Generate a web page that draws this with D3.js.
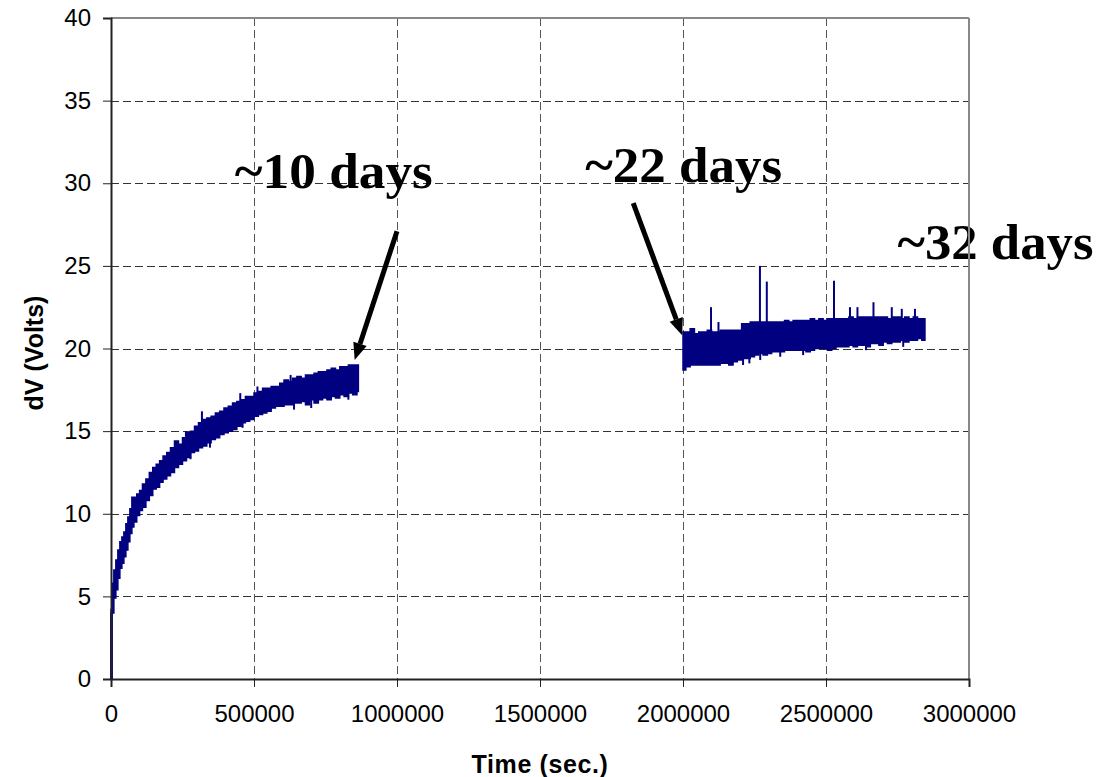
<!DOCTYPE html>
<html>
<head>
<meta charset="utf-8">
<script src="https://cdn.jsdelivr.net/npm/d3@7/dist/d3.min.js"></script>
<style>
  html, body { margin: 0; padding: 0; background: #fff; }
  svg { display: block; }
</style>
</head>
<body>
<svg id="chart" width="1097" height="777"></svg>
<script>
// Tick values
const xTicks = [0, 500000, 1000000, 1500000, 2000000, 2500000, 3000000];
const yTicks = [0, 5, 10, 15, 20, 25, 30, 35, 40];

// First run: [time (s), lowest dV, highest dV] per sampling window
const run1 = [
  [0, 0, 4.2], [3500, 4.0, 5.8], [10000, 4.9, 6.6], [17000, 5.4, 7.2],
  [24000, 6.1, 7.8], [31000, 6.7, 8.3], [38000, 7.0, 8.6], [45000, 7.4, 8.9],
  [52000, 7.8, 9.4], [59000, 8.3, 9.8], [66000, 8.8, 10.3], [73000, 9.2, 11.0],
  [80000, 9.5, 11.0], [90000, 9.9, 11.2], [100000, 10.2, 11.4], [110000, 10.4, 11.8],
  [122000, 10.8, 12.1], [134000, 11.1, 12.5], [146000, 11.5, 12.8], [158000, 11.6, 13.0],
  [170000, 11.9, 13.2], [182000, 12.1, 13.5], [195000, 12.3, 13.7], [208000, 12.5, 14.0],
  [222000, 12.8, 14.4], [236000, 13.0, 14.2], [250000, 13.2, 14.6], [264000, 13.4, 14.9],
  [278000, 13.7, 15.0], [292000, 13.8, 15.3], [306000, 14.0, 15.5], [320000, 14.1, 15.7],
  [335000, 14.3, 15.8], [350000, 14.5, 15.9], [365000, 14.6, 16.1], [380000, 14.8, 16.2],
  [395000, 14.9, 16.4], [410000, 15.0, 16.5], [425000, 15.1, 16.7], [440000, 15.3, 16.8],
  [455000, 15.5, 16.9], [470000, 15.6, 17.1], [485000, 15.7, 17.1], [500000, 15.9, 17.3],
  [515000, 16.0, 17.4], [530000, 16.1, 17.6], [545000, 16.2, 17.6], [560000, 16.4, 17.7],
  [575000, 16.5, 17.7], [590000, 16.5, 17.9], [605000, 16.6, 18.1], [620000, 16.6, 18.0],
  [635000, 16.7, 18.2], [650000, 16.7, 18.3], [665000, 16.8, 18.2], [680000, 16.6, 18.4],
  [695000, 16.9, 18.4], [710000, 16.7, 18.5], [725000, 16.9, 18.6], [740000, 17.0, 18.6],
  [755000, 16.9, 18.7], [770000, 17.1, 18.8], [785000, 17.0, 18.7], [800000, 17.2, 18.9],
  [815000, 17.1, 18.9], [830000, 17.3, 19.0], [845000, 17.2, 19.0], [860000, 17.4, 19.0],
  [865000, 17.4, 19.0]
];

// Isolated excursions in the first run: [time (s), dV]
const run1Spikes = [
  [262000, 15.0], [318000, 16.2], [452000, 17.3], [512000, 17.7], [628000, 18.4]
];
const run1Dips = [
  [278000, 13.3], [346000, 14.0], [460000, 15.2], [640000, 16.3], [700000, 16.4], [830000, 16.9]
];

// Second run, restarted after the break
const run2 = [
  [2000000, 18.7, 21.0], [2010000, 18.9, 21.0], [2025000, 19.0, 21.2], [2040000, 19.0, 20.9],
  [2055000, 19.0, 21.0], [2070000, 19.0, 21.0], [2085000, 19.0, 21.1], [2100000, 19.0, 21.0],
  [2115000, 19.0, 21.0], [2130000, 19.1, 21.1], [2145000, 19.1, 21.1], [2160000, 19.0, 21.1],
  [2175000, 19.2, 21.1], [2190000, 19.3, 21.1], [2205000, 19.4, 21.5], [2220000, 19.4, 21.5],
  [2235000, 19.5, 21.6], [2250000, 19.6, 21.6], [2265000, 19.7, 21.6], [2280000, 19.6, 21.6],
  [2295000, 19.7, 21.6], [2310000, 19.8, 21.6], [2325000, 19.8, 21.6], [2340000, 19.8, 21.6],
  [2355000, 19.9, 21.7], [2370000, 19.9, 21.6], [2385000, 19.9, 21.7], [2400000, 19.9, 21.7],
  [2415000, 19.9, 21.7], [2430000, 19.8, 21.7], [2445000, 19.9, 21.8], [2460000, 20.0, 21.7],
  [2475000, 20.0, 21.8], [2490000, 20.0, 21.7], [2505000, 19.9, 21.8], [2520000, 20.0, 21.8],
  [2535000, 20.1, 21.8], [2550000, 20.1, 21.8], [2565000, 20.1, 21.8], [2580000, 20.2, 21.9],
  [2595000, 20.1, 21.8], [2610000, 20.2, 21.9], [2625000, 20.2, 21.9], [2640000, 20.1, 21.9],
  [2655000, 20.3, 21.9], [2670000, 20.3, 21.9], [2685000, 20.2, 21.9], [2700000, 20.4, 21.9],
  [2715000, 20.3, 21.8], [2730000, 20.4, 21.9], [2745000, 20.4, 21.9], [2760000, 20.5, 21.8],
  [2775000, 20.4, 21.9], [2790000, 20.5, 21.8], [2805000, 20.5, 21.9], [2820000, 20.6, 21.8],
  [2835000, 20.5, 21.8], [2846000, 20.5, 21.8]
];

// Isolated excursions in the second run: [time (s), dV]
const run2Spikes = [
  [2098000, 22.5], [2124000, 21.6], [2269000, 25.0], [2293000, 24.05],
  [2528000, 24.1], [2584000, 22.5], [2610000, 22.5], [2666000, 22.8],
  [2730000, 22.5], [2765000, 22.4], [2811000, 22.4]
];
const run2Dips = [
  [2210000, 19.0], [2232000, 19.1], [2270000, 19.3], [2340000, 19.5], [2420000, 19.6],
  [2640000, 19.9], [2770000, 20.1]
];

// Day markers: label, label anchor (time, dV), arrow tail, arrow tip
const markerLabels = ["~10 days", "~22 days", "~32 days"];
const markerText = [[433000, 29.7], [1658000, 30.1], [2750000, 25.4]];
const markerArrows = [
  [[1000000, 27.1], [852000, 19.3]],
  [[1826000, 28.8], [1997000, 20.8]]
];

const W = 1097, H = 777;
const plot = { left: 111, top: 18, right: 969, bottom: 679 };

const svg = d3.select("#chart");
const x = d3.scaleLinear().domain([0, 3000000]).range([plot.left, plot.right]);
const y = d3.scaleLinear().domain([0, 40]).range([plot.bottom, plot.top]);

const sansFont = "'Liberation Sans', Arial, sans-serif";
const serifFont = "'Liberation Serif', 'Times New Roman', serif";

// Dashed grid
const grid = svg.append("g");
grid.selectAll("line.h").data(yTicks.filter(d => d > 0 && d < 40)).join("line")
  .attr("x1", plot.left).attr("x2", plot.right)
  .attr("y1", d => Math.round(y(d)) + 0.5).attr("y2", d => Math.round(y(d)) + 0.5)
  .attr("stroke", "#333").attr("stroke-width", 1).attr("stroke-dasharray", "8,4");
grid.selectAll("line.v").data(xTicks.filter(d => d > 0 && d < 3000000)).join("line")
  .attr("y1", plot.top).attr("y2", plot.bottom)
  .attr("x1", d => Math.round(x(d)) + 0.5).attr("x2", d => Math.round(x(d)) + 0.5)
  .attr("stroke", "#555").attr("stroke-width", 1).attr("stroke-dasharray", "8,4");

// Measured band
const band = d3.area()
  .curve(d3.curveStepAfter)
  .x(d => x(d[0]))
  .y0(d => y(d[1]))
  .y1(d => y(d[2]));

const navy = "#000080";
[run1, run2].forEach(run => {
  svg.append("path").datum(run)
    .attr("d", band)
    .attr("fill", navy)
    .attr("stroke", navy)
    .attr("stroke-width", 1.5)
    .attr("stroke-linejoin", "miter");
});
// Start-up trace at t = 0
svg.append("line")
  .attr("x1", x(0) + 0.5).attr("x2", x(0) + 0.5)
  .attr("y1", y(0)).attr("y2", y(run1[1][1]))
  .attr("stroke", navy).attr("stroke-width", 2.5);

// Spikes above and dips below each band
function excursions(data, anchor) {
  svg.append("g").selectAll("line").data(data).join("line")
    .attr("x1", d => x(d[0])).attr("x2", d => x(d[0]))
    .attr("y1", d => y(d[1])).attr("y2", d => y(anchor(d[0])))
    .attr("stroke", navy).attr("stroke-width", 2);
}
const midOf = run => t => {
  const i = Math.max(0, d3.bisector(d => d[0]).right(run, t) - 1);
  return (run[i][1] + run[i][2]) / 2;
};
excursions(run1Spikes, midOf(run1));
excursions(run1Dips, midOf(run1));
excursions(run2Spikes, midOf(run2));
excursions(run2Dips, midOf(run2));

// Day annotations (wide bold serif)
const textWidths = [198, 197, 196];
svg.append("g").selectAll("text").data(markerLabels).join("text")
  .attr("font-family", serifFont)
  .attr("font-weight", "bold")
  .attr("font-size", 50)
  .attr("fill", "#000")
  .text(d => d)
  .each(function (d, i) {
    const natural = this.getComputedTextLength();
    const sx = textWidths[i] / natural;
    d3.select(this).attr("transform",
      `translate(${x(markerText[i][0])},${y(markerText[i][1])}) scale(${sx},1)`);
  });

const arrows = svg.append("g");
markerArrows.forEach(([tail, tip]) => {
  const x0 = x(tail[0]), y0 = y(tail[1]), x1 = x(tip[0]), y1 = y(tip[1]);
  const ang = Math.atan2(y1 - y0, x1 - x0);
  const headLen = 17, headHalf = 7;
  const bx = x1 - headLen * Math.cos(ang), by = y1 - headLen * Math.sin(ang);
  arrows.append("line")
    .attr("x1", x0).attr("y1", y0).attr("x2", bx).attr("y2", by)
    .attr("stroke", "#000").attr("stroke-width", 5);
  const px = -Math.sin(ang), py = Math.cos(ang);
  arrows.append("path")
    .attr("d", `M${x1},${y1}L${bx + px * headHalf},${by + py * headHalf}L${bx - px * headHalf},${by - py * headHalf}Z`)
    .attr("fill", "#000");
});

// Plot frame
svg.append("line").attr("x1", plot.left).attr("x2", plot.right)
  .attr("y1", plot.top).attr("y2", plot.top).attr("stroke", "#888").attr("stroke-width", 2);
svg.append("line").attr("x1", plot.right).attr("x2", plot.right)
  .attr("y1", plot.top).attr("y2", plot.bottom).attr("stroke", "#888").attr("stroke-width", 2);

// Axes
const yAxis = svg.append("g")
  .attr("transform", `translate(${plot.left},0)`)
  .call(d3.axisLeft(y).tickValues(yTicks).tickSize(8).tickPadding(12).tickFormat(d3.format("d")));
const xAxis = svg.append("g")
  .attr("transform", `translate(0,${plot.bottom})`)
  .call(d3.axisBottom(x).tickValues(xTicks).tickSize(8).tickPadding(18).tickFormat(d3.format("d")));

[yAxis, xAxis].forEach(g => {
  g.select(".domain").attr("stroke", "#222").attr("stroke-width", 2);
  g.selectAll(".tick line").attr("stroke", "#222").attr("stroke-width", 1);
  g.selectAll(".tick text")
    .attr("font-family", sansFont)
    .attr("font-size", 24)
    .attr("fill", "#000");
});

// Axis titles
svg.append("text")
  .attr("x", (plot.left + plot.right) / 2)
  .attr("y", 773)
  .attr("text-anchor", "middle")
  .attr("font-family", sansFont)
  .attr("font-weight", "bold")
  .attr("font-size", 25)
  .attr("letter-spacing", 0.6)
  .text("Time (sec.)");

svg.append("text")
  .attr("transform", `translate(43,353) rotate(-90)`)
  .attr("text-anchor", "middle")
  .attr("font-family", sansFont)
  .attr("font-weight", "bold")
  .attr("font-size", 25)
  .text("dV (Volts)");
</script>
</body>
</html>
